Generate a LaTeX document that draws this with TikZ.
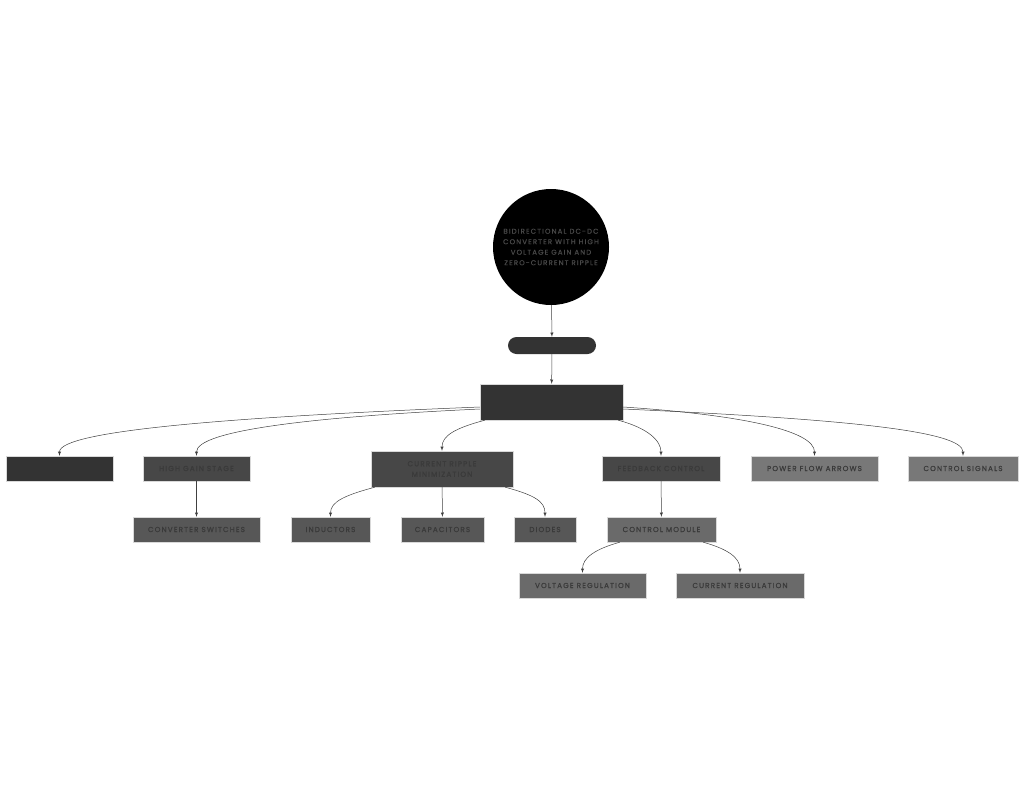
\documentclass[tikz,border=0pt]{standalone}
\usepackage{fontspec}
\newfontfamily\boxfont[LetterSpace=16, FakeBold=0.8]{Poppins}
\usetikzlibrary{shapes,calc}

\definecolor{hubgray}{HTML}{333333}
\definecolor{midgray}{HTML}{474747}
\definecolor{leafgray}{HTML}{575757}
\definecolor{lightgray}{HTML}{6A6A6A}
\definecolor{palegray}{HTML}{787878}
\definecolor{inkgray}{HTML}{3A3A3A}

\begin{document}
\begin{tikzpicture}[x=1pt, y=-1pt,
	box/.style={draw=black!15, line width=0.4pt, minimum height=25pt, inner sep=0pt,
		font=\boxfont\fontsize{7.2}{10.5}\selectfont, text=inkgray, align=center},
	edge/.style={-latex, draw=black!75, line width=0.5pt}]
			\useasboundingbox (0,0) rectangle (1024,787);

			% top of the tree
			\node[circle, fill=black, minimum size=116pt, inner sep=0pt, align=center,
				text=black!72, font=\boxfont\fontsize{7}{10.5}\selectfont] (title) at (551,247)
				{BIDIRECTIONAL DC-DC\\CONVERTER WITH HIGH\\VOLTAGE GAIN AND\\ZERO-CURRENT RIPPLE};
			\node[rounded corners=8.5pt, fill=hubgray, minimum width=88pt, minimum height=17pt] (pill) at (552,345.5) {};
			\node[box, fill=hubgray, minimum width=143pt, minimum height=36pt] (hub) at (551.5,402) {};

			% second row
			\node[box, fill=hubgray, minimum width=107pt] (blank) at (59.5,468.5) {};
			\node[box, fill=midgray, minimum width=107pt] (gain) at (196.5,468.5) {HIGH GAIN STAGE};
			\node[box, fill=midgray, minimum width=142pt, minimum height=36pt] (ripple) at (442,469) {CURRENT RIPPLE\\MINIMIZATION};
			\node[box, fill=midgray, minimum width=118pt] (feedback) at (661,468.5) {FEEDBACK CONTROL};
			\node[box, fill=palegray, minimum width=127pt] (power) at (814.5,468.5) {POWER FLOW ARROWS};
			\node[box, fill=palegray, minimum width=110pt] (signals) at (963,468.5) {CONTROL SIGNALS};

			% third row
			\node[box, fill=leafgray, minimum width=127pt] (switches) at (196.5,529.5) {CONVERTER SWITCHES};
			\node[box, fill=leafgray, minimum width=79pt] (inductors) at (330.5,529.5) {INDUCTORS};
			\node[box, fill=leafgray, minimum width=83pt] (capacitors) at (442.5,529.5) {CAPACITORS};
			\node[box, fill=leafgray, minimum width=62pt] (diodes) at (545,529.5) {DIODES};
			\node[box, fill=lightgray, minimum width=109pt] (module) at (661.5,529.5) {CONTROL MODULE};

			% fourth row
			\node[box, fill=lightgray, minimum width=127pt] (vreg) at (582.5,585.5) {VOLTAGE REGULATION};
			\node[box, fill=lightgray, minimum width=128pt] (ireg) at (740,585.5) {CURRENT REGULATION};

			\draw[edge] (title) -- (pill);
			\draw[edge] (pill) -- (hub);

			\draw[edge] ([yshift=-5pt]hub.west) .. controls +(-250,10) and +(0,-25) .. (blank.north);
			\draw[edge] ([yshift=-7pt]hub.west) .. controls +(-170,8) and +(0,-25) .. (gain.north);
			\draw[edge] ([xshift=5pt]hub.south west) .. controls +(-30,8) and +(0,-15) .. (ripple.north);
			\draw[edge] ([xshift=-5pt]hub.south east) .. controls +(30,8) and +(0,-15) .. (feedback.north);
			\draw[edge] ([yshift=-5pt]hub.east) .. controls +(120,8) and +(0,-25) .. (power.north);
			\draw[edge] ([yshift=-7pt]hub.east) .. controls +(220,10) and +(0,-25) .. (signals.north);

			\draw[edge] (gain) -- (switches);
			\draw[edge] ([xshift=4pt]ripple.south west) .. controls +(-30,8) and +(0,-15) .. (inductors.north);
			\draw[edge] (ripple) -- (capacitors);
			\draw[edge] ([xshift=-8pt]ripple.south east) .. controls +(30,8) and +(0,-15) .. (diodes.north);
			\draw[edge] (feedback) -- (module);
			\draw[edge] ([xshift=13pt]module.south west) .. controls +(-25,7) and +(0,-15) .. (vreg.north);
			\draw[edge] ([xshift=-13pt]module.south east) .. controls +(25,7) and +(0,-15) .. (ireg.north);
		\end{tikzpicture}
\end{document}
